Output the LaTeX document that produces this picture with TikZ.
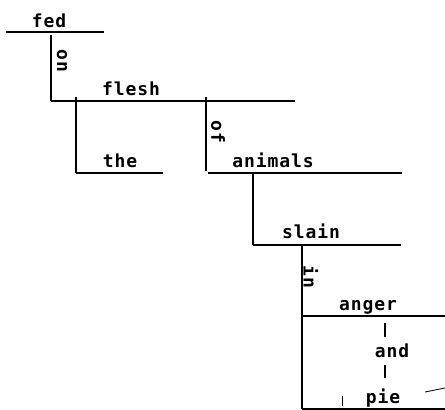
\documentclass[tikz,border=0pt]{standalone}
\usepackage{fontspec}
\newfontfamily\diagfont[LetterSpace=5]{DejaVu Sans Mono}
\begin{document}
\begin{tikzpicture}[x=1pt,y=-1pt,
  word/.style={font=\diagfont\bfseries\fontsize{18}{18}\selectfont, anchor=base, inner sep=0pt},
  vword/.style={font=\diagfont\bfseries\fontsize{18}{18}\selectfont, rotate=-90, inner sep=0pt},
  baseline line/.style={line width=1.8pt},
  stem/.style={line width=1.6pt},
  thin/.style={line width=0.8pt}]
\useasboundingbox (0,0) rectangle (445,410);
% coordinates
\coordinate (fedL) at (6,32);
\coordinate (fedR) at (104,32);
\coordinate (onT) at (51,35);
\coordinate (fleshL) at (51,101);
\coordinate (fleshR) at (295,101);
\coordinate (theT) at (76,97);
\coordinate (theL) at (76,173);
\coordinate (theR) at (163,173);
\coordinate (ofT) at (206,97);
\coordinate (ofB) at (206,171);
\coordinate (animL) at (208,173);
\coordinate (animR) at (402,173);
\coordinate (slT) at (253,173);
\coordinate (slL) at (253,245);
\coordinate (slR) at (401,245);
\coordinate (inT) at (302,245);
\coordinate (inB) at (302,409);
\coordinate (angR) at (445,316);
\coordinate (angL) at (302,316);
\coordinate (pieR) at (445,409);
\coordinate (p1T) at (385,323);
\coordinate (p1B) at (385,337);
\coordinate (p2T) at (385,365);
\coordinate (p2B) at (385,378);
\coordinate (tkT) at (342,396);
\coordinate (tkB) at (342,406);
\coordinate (slA) at (425,392);
\coordinate (slB) at (445,388);
% words
\node[word] (fed) at (49,27) {fed};
\node[word] (flesh) at (131,95) {flesh};
\node[word] (the) at (120,167) {the};
\node[word] (animals) at (273,167) {animals};
\node[word] (slain) at (311,238) {slain};
\node[word] (anger) at (368,310) {anger};
\node[word] (and) at (392,357) {and};
\node[word] (pie) at (383,403) {pie};
\node[vword] (on) at (62,61) {on};
\node[vword] (of) at (218,132) {of};
\node[vword] (in) at (311,277) {in};
% lines
\draw[baseline line] (fedL) -- (fedR);
\draw[stem] (onT) -- (fleshL);
\draw[baseline line] (fleshL) -- (fleshR);
\draw[stem] (theT) -- (theL);
\draw[baseline line] (theL) -- (theR);
\draw[stem] (ofT) -- (ofB);
\draw[baseline line] (animL) -- (animR);
\draw[stem] (slT) -- (slL);
\draw[baseline line] (slL) -- (slR);
\draw[stem] (inT) -- (inB);
\draw[baseline line] (angL) -- (angR);
\draw[baseline line] (inB) -- (pieR);
\draw[stem] (p1T) -- (p1B);
\draw[stem] (p2T) -- (p2B);
\draw[thin] (tkT) -- (tkB);
\draw[thin] (slA) -- (slB);
\end{tikzpicture}
\end{document}
